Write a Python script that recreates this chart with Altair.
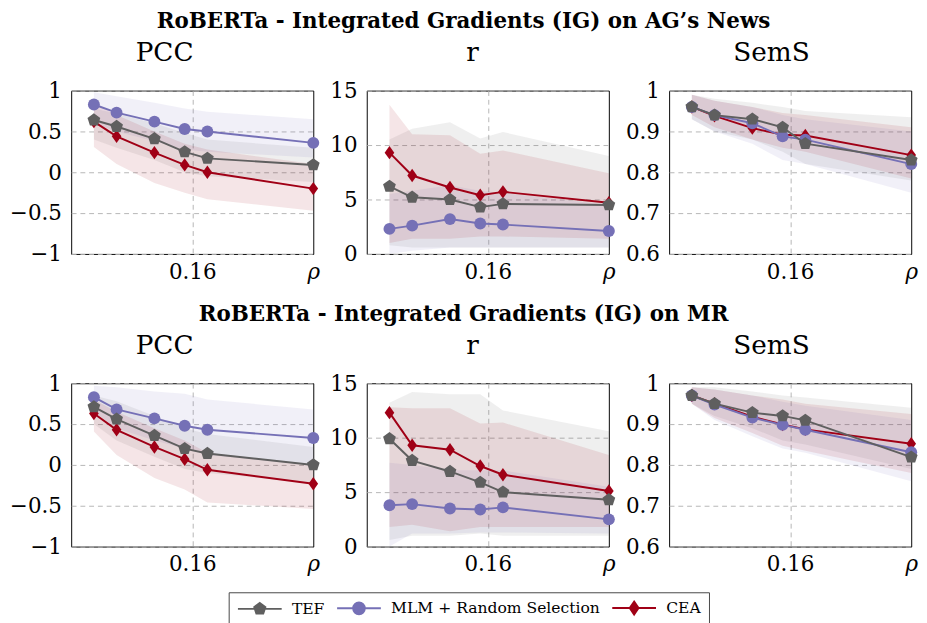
import altair as alt
import pandas as pd

X = [0.03, 0.06, 0.11, 0.15, 0.18, 0.32]
SERIES = ["TEF", "MLM + Random Selection", "CEA"]
COLORS = ["#5f5f5f", "#7570b6", "#a00016"]

# ---------- AG's News ----------
AG_PCC_TEF = [0.64, 0.56, 0.41, 0.25, 0.17, 0.09]
AG_PCC_TEF_LO = [0.40, 0.30, 0.15, 0.00, -0.05, -0.12]
AG_PCC_TEF_HI = [0.78, 0.72, 0.60, 0.48, 0.40, 0.30]
AG_PCC_MLM = [0.83, 0.73, 0.62, 0.53, 0.50, 0.36]
AG_PCC_MLM_LO = [0.60, 0.50, 0.38, 0.28, 0.25, 0.18]
AG_PCC_MLM_HI = [0.98, 0.93, 0.85, 0.78, 0.74, 0.65]
AG_PCC_CEA = [0.62, 0.44, 0.24, 0.09, 0.00, -0.20]
AG_PCC_CEA_LO = [0.31, 0.10, -0.13, -0.25, -0.33, -0.47]
AG_PCC_CEA_HI = [0.85, 0.70, 0.50, 0.35, 0.28, 0.10]

AG_R_TEF = [6.2, 5.2, 5.0, 4.3, 4.6, 4.5]
AG_R_TEF_LO = [0.8, 0.6, 0.6, 0.6, 0.6, 0.6]
AG_R_TEF_HI = [10.5, 11.5, 12.1, 10.6, 11.2, 9.0]
AG_R_MLM = [2.3, 2.6, 3.2, 2.8, 2.7, 2.1]
AG_R_MLM_LO = [0.0, 0.3, 0.6, 0.6, 0.6, 0.6]
AG_R_MLM_HI = [5.5, 5.8, 6.3, 5.8, 5.6, 4.5]
AG_R_CEA = [9.3, 7.2, 6.1, 5.4, 5.7, 4.7]
AG_R_CEA_LO = [1.0, 1.4, 1.4, 1.6, 1.6, 1.4]
AG_R_CEA_HI = [13.7, 11.0, 10.9, 9.2, 9.5, 7.4]

AG_SEMS_TEF = [0.960, 0.940, 0.930, 0.910, 0.870, 0.830]
AG_SEMS_TEF_LO = [0.93, 0.90, 0.88, 0.85, 0.82, 0.78]
AG_SEMS_TEF_HI = [0.99, 0.98, 0.97, 0.96, 0.95, 0.935]
AG_SEMS_MLM = [0.960, 0.940, 0.920, 0.888, 0.880, 0.820]
AG_SEMS_MLM_LO = [0.93, 0.90, 0.87, 0.83, 0.82, 0.75]
AG_SEMS_MLM_HI = [0.99, 0.975, 0.96, 0.94, 0.93, 0.90]
AG_SEMS_CEA = [0.960, 0.938, 0.908, 0.892, 0.890, 0.842]
AG_SEMS_CEA_LO = [0.94, 0.91, 0.88, 0.86, 0.85, 0.785]
AG_SEMS_CEA_HI = [0.99, 0.975, 0.96, 0.945, 0.94, 0.91]

# ---------- MR ----------
MR_PCC_TEF = [0.71, 0.56, 0.36, 0.20, 0.14, 0.00]
MR_PCC_TEF_LO = [0.50, 0.30, 0.10, -0.05, -0.10, -0.22]
MR_PCC_TEF_HI = [0.85, 0.78, 0.60, 0.45, 0.38, 0.22]
MR_PCC_MLM = [0.83, 0.68, 0.57, 0.48, 0.43, 0.33]
MR_PCC_MLM_LO = [0.65, 0.45, 0.30, 0.20, 0.12, 0.00]
MR_PCC_MLM_HI = [0.97, 0.95, 0.90, 0.87, 0.80, 0.68]
MR_PCC_CEA = [0.63, 0.43, 0.22, 0.07, -0.06, -0.23]
MR_PCC_CEA_LO = [0.41, 0.12, -0.16, -0.30, -0.46, -0.54]
MR_PCC_CEA_HI = [0.80, 0.65, 0.45, 0.30, 0.15, 0.00]

MR_R_TEF = [9.9, 7.9, 6.9, 5.9, 5.0, 4.3]
MR_R_TEF_LO = [0.6, 1.0, 1.0, 1.2, 1.0, 1.0]
MR_R_TEF_HI = [13.2, 14.2, 14.0, 14.0, 12.5, 10.6]
MR_R_MLM = [3.8, 3.9, 3.5, 3.4, 3.6, 2.5]
MR_R_MLM_LO = [0.0, 1.2, 1.2, 1.3, 1.3, 1.2]
MR_R_MLM_HI = [7.7, 7.5, 7.0, 7.0, 7.0, 5.5]
MR_R_CEA = [12.3, 9.3, 8.9, 7.4, 6.6, 5.1]
MR_R_CEA_LO = [1.8, 2.0, 1.4, 1.8, 1.8, 1.8]
MR_R_CEA_HI = [12.8, 12.7, 12.7, 11.3, 11.4, 8.4]

MR_SEMS_TEF = [0.970, 0.950, 0.928, 0.920, 0.909, 0.819]
MR_SEMS_TEF_LO = [0.95, 0.92, 0.89, 0.86, 0.85, 0.79]
MR_SEMS_TEF_HI = [0.99, 0.99, 0.98, 0.97, 0.965, 0.94]
MR_SEMS_MLM = [0.970, 0.948, 0.916, 0.898, 0.886, 0.831]
MR_SEMS_MLM_LO = [0.95, 0.91, 0.87, 0.84, 0.83, 0.76]
MR_SEMS_MLM_HI = [0.99, 0.985, 0.97, 0.955, 0.945, 0.91]
MR_SEMS_CEA = [0.970, 0.950, 0.918, 0.899, 0.887, 0.852]
MR_SEMS_CEA_LO = [0.95, 0.915, 0.878, 0.847, 0.835, 0.78]
MR_SEMS_CEA_HI = [0.99, 0.985, 0.97, 0.96, 0.95, 0.925]

PENTAGON = "M0,-1L0.951,-0.309L0.588,0.809L-0.588,0.809L-0.951,-0.309Z"
DIAMOND = "M0,-1L0.72,0L0,1L-0.72,0Z"
MARKERS = [PENTAGON, "circle", DIAMOND]
MARKER_SIZES = [190, 150, 190]
LEG_LINE = "M-3.75,0L3.75,0"
LEG_PATHS = [
    LEG_LINE + "M0,-1L0.951,-0.309L0.588,0.809L-0.588,0.809L-0.951,-0.309Z",
    LEG_LINE + "M-1,0A1,1,0,1,0,1,0A1,1,0,1,0,-1,0Z",
    LEG_LINE + "M0,-1.1L0.75,0L0,1.1L-0.75,0Z",
]

FONT = "DejaVu Serif"
W, H = 249, 168
GRID = "#b5b5b5"


def frame(means, los, his):
    rows = []
    for s, m, lo, hi in zip(SERIES, means, los, his):
        for x, a, b, c in zip(X, m, lo, hi):
            rows.append({"x": x, "series": s, "mean": a, "lo": b, "hi": c})
    return pd.DataFrame(rows)


def panel(title, df, ydom, yvals, with_legend=False):
    xenc = alt.X(
        "x:Q",
        scale=alt.Scale(domain=[0, 0.32], nice=False, zero=False),
        axis=alt.Axis(
            values=[0.16, 0.32],
            labelExpr="datum.value > 0.2 ? 'ρ' : '0.16'",
            labelFontStyle={"condition": {"test": "datum.value > 0.2", "value": "italic"}, "value": "normal"},
            gridOpacity={"condition": {"test": "datum.value > 0.2", "value": 0}, "value": 1},
            grid=True, gridDash=[5, 4], gridColor=GRID, domain=False, ticks=False, tickSize=0,
            labelFlush=False, labelPadding=8, title=None,
        ),
    )
    yaxis = alt.Axis(
        values=yvals, format="~g", grid=True, gridDash=[5, 4], gridColor=GRID,
        domain=False, ticks=False, tickSize=0, labelFlush=False, labelPadding=10, title=None,
    )
    yscale = alt.Scale(domain=ydom, nice=False, zero=False)
    layers = []
    for s, c in zip(SERIES, COLORS):
        sub = df[df.series == s]
        layers.append(
            alt.Chart(sub).mark_area(color=c, opacity=0.1).encode(
                x=xenc, y=alt.Y("lo:Q", scale=yscale, axis=yaxis), y2="hi:Q"
            )
        )
    for i in [2, 1, 0]:
        s, c = SERIES[i], COLORS[i]
        sub = df[df.series == s]
        base = alt.Chart(sub).encode(x=xenc, y=alt.Y("mean:Q", scale=yscale, axis=yaxis))
        layers.append(base.mark_line(color=c, strokeWidth=2))
        layers.append(
            base.mark_point(filled=True, opacity=1, color=c, shape=MARKERS[i], size=MARKER_SIZES[i])
        )
    if with_legend:
        dummy = pd.DataFrame({"x": X[:3], "series": SERIES, "mean": [None, None, None]})
        leg = alt.Legend(
            title=None, orient="none", legendX=162, legendY=516, direction="horizontal",
        )
        layers.append(
            alt.Chart(dummy).mark_point(filled=True, opacity=1, size=144, strokeWidth=2).encode(
                x=xenc,
                y=alt.Y("mean:Q", scale=yscale, axis=yaxis),
                fill=alt.Fill("series:N", scale=alt.Scale(domain=SERIES, range=COLORS), legend=leg),
                stroke=alt.Stroke("series:N", scale=alt.Scale(domain=SERIES, range=COLORS), legend=leg),
                shape=alt.Shape("series:N", scale=alt.Scale(domain=SERIES, range=LEG_PATHS), legend=leg),
            )
        )
    return alt.layer(*layers).properties(
        width=W, height=H,
        title=alt.TitleParams(title, font=FONT, fontSize=27, fontWeight="normal", anchor="middle",
                              frame="bounds", offset=13, color="black"),
    )


def row(title, pcc, r, sems, with_legend=False):
    return alt.hconcat(
        panel("PCC", pcc, [-1, 1], [-1, -0.5, 0, 0.5, 1]),
        panel("r", r, [0, 15], [0, 5, 10, 15], with_legend),
        panel("SemS", sems, [0.6, 1], [0.6, 0.7, 0.8, 0.9, 1]),
        spacing=8,
    ).properties(
        title=alt.TitleParams(title, font=FONT, fontSize=22, fontWeight="bold", anchor="middle", offset=7, color="black")
    )


ag = row(
    "RoBERTa - Integrated Gradients (IG) on AG’s News",
    frame([AG_PCC_TEF, AG_PCC_MLM, AG_PCC_CEA], [AG_PCC_TEF_LO, AG_PCC_MLM_LO, AG_PCC_CEA_LO], [AG_PCC_TEF_HI, AG_PCC_MLM_HI, AG_PCC_CEA_HI]),
    frame([AG_R_TEF, AG_R_MLM, AG_R_CEA], [AG_R_TEF_LO, AG_R_MLM_LO, AG_R_CEA_LO], [AG_R_TEF_HI, AG_R_MLM_HI, AG_R_CEA_HI]),
    frame([AG_SEMS_TEF, AG_SEMS_MLM, AG_SEMS_CEA], [AG_SEMS_TEF_LO, AG_SEMS_MLM_LO, AG_SEMS_CEA_LO], [AG_SEMS_TEF_HI, AG_SEMS_MLM_HI, AG_SEMS_CEA_HI]),
)
mr = row(
    "RoBERTa - Integrated Gradients (IG) on MR",
    frame([MR_PCC_TEF, MR_PCC_MLM, MR_PCC_CEA], [MR_PCC_TEF_LO, MR_PCC_MLM_LO, MR_PCC_CEA_LO], [MR_PCC_TEF_HI, MR_PCC_MLM_HI, MR_PCC_CEA_HI]),
    frame([MR_R_TEF, MR_R_MLM, MR_R_CEA], [MR_R_TEF_LO, MR_R_MLM_LO, MR_R_CEA_LO], [MR_R_TEF_HI, MR_R_MLM_HI, MR_R_CEA_HI]),
    frame([MR_SEMS_TEF, MR_SEMS_MLM, MR_SEMS_CEA], [MR_SEMS_TEF_LO, MR_SEMS_MLM_LO, MR_SEMS_CEA_LO], [MR_SEMS_TEF_HI, MR_SEMS_MLM_HI, MR_SEMS_CEA_HI]),
    with_legend=True,
)

chart = alt.vconcat(ag, mr, spacing=20).properties(
    padding={"left": 1, "top": -7, "right": 0, "bottom": 0}
).configure_view(
    stroke="black", strokeWidth=1
).configure_axis(
    labelFont=FONT, labelFontSize=22, labelColor="black"
).configure_legend(
    labelFont=FONT, labelFontSize=16, labelColor="black", labelLimit=0, symbolSize=144, symbolStrokeWidth=2,
    symbolOffset=16, labelOffset=25, columnPadding=8, padding=8, strokeColor="#444444",
    fillColor="white", cornerRadius=0,
)

chart.save("out.html", embed_options={"renderer": "svg", "actions": False})
